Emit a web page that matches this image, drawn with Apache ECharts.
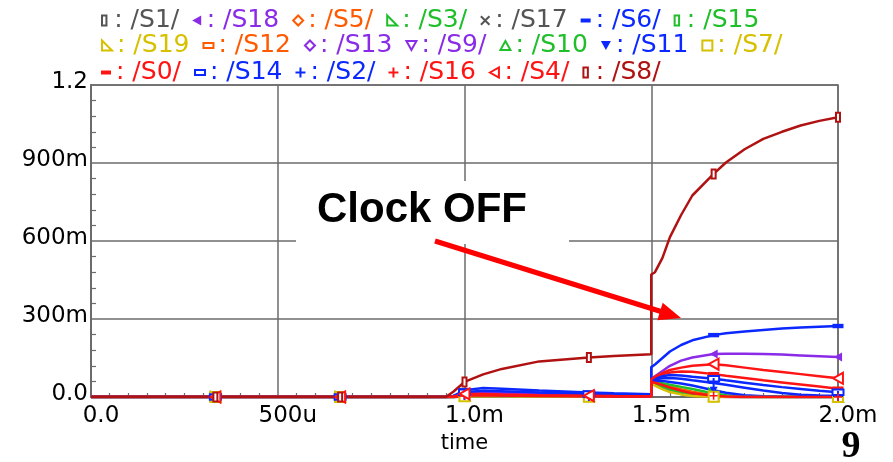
<!DOCTYPE html>
<html>
<head>
<meta charset="utf-8">
<script src="https://cdn.jsdelivr.net/npm/echarts@6/dist/echarts.min.js"></script>
<style>
html,body{margin:0;padding:0;background:#fff;}
#chart{width:893px;height:462px;}
</style>
</head>
<body>
<div id="chart"></div>
<script>
// ---------------- DATA ----------------
// time in ms
const T = [0,0.333,0.667,0.9,0.95,0.97,0.99,1.0,1.05,1.1,1.2,1.333,1.4,1.5,1.5,1.51,1.53,1.55,1.58,1.61,1.667,1.7,1.75,1.8,1.85,1.9,1.95,2.0];
const markerTimes = [0.333,0.667,1.0,1.333,1.667,2.0];
const xTickLabels = ['0.0','500u','1.0m','1.5m','2.0m'];
const yTickLabels = ['0.0','300m','600m','900m','1.2'];

const legendRow1 = ['/S1/','/S18','/S5/','/S3/','/S17','/S6/','/S15'];
const legendRow2 = ['/S19','/S12','/S13','/S9/','/S10','/S11','/S7/'];
const legendRow3 = ['/S0/','/S14','/S2/','/S16','/S4/','/S8/'];

const S1  = [0,0,0,0,0,0,0.001,0.003,0.004,0.003,0.002,0.001,0.001,0.001, 0.054,0.048,0.037,0.026,0.015,0.008,0.002,0.001,0,0,0,0,0,0];
const S18 = [0,0,0,0,0,0.002,0.010,0.014,0.018,0.016,0.012,0.008,0.006,0.005, 0.070,0.080,0.100,0.120,0.140,0.152,0.165,0.166,0.166,0.165,0.163,0.160,0.157,0.154];
const S5  = [0,0,0,0,0,0,0.002,0.004,0.005,0.004,0.003,0.002,0.001,0.001, 0.060,0.057,0.049,0.041,0.030,0.020,0.007,0.003,0.001,0,0,0,0,0];
const S3  = [0,0,0,0,0,0,0.002,0.004,0.005,0.004,0.003,0.002,0.001,0.001, 0.060,0.058,0.053,0.047,0.039,0.031,0.014,0.007,0.002,0,0,0,0,0];
const S17 = [0,0,0,0,0,0,0.001,0.003,0.004,0.003,0.002,0.001,0.001,0.001, 0.054,0.047,0.036,0.025,0.014,0.007,0.002,0.001,0,0,0,0,0,0];
const S6  = [0,0,0,0,0,0.004,0.018,0.026,0.035,0.032,0.025,0.017,0.014,0.011, 0.115,0.125,0.150,0.175,0.200,0.218,0.238,0.245,0.252,0.258,0.263,0.267,0.270,0.273];
const S15 = [0,0,0,0,0,0,0.002,0.004,0.005,0.004,0.003,0.002,0.001,0.001, 0.058,0.053,0.043,0.034,0.022,0.013,0.004,0.001,0,0,0,0,0,0];
const S19 = [0,0,0,0,0,0,0.001,0.003,0.004,0.003,0.002,0.001,0.001,0.001, 0.055,0.045,0.031,0.021,0.011,0.005,0.001,0,0,0,0,0,0,0];
const S12 = [0,0,0,0,0,0,0.002,0.004,0.005,0.004,0.003,0.002,0.001,0.001, 0.057,0.051,0.041,0.031,0.020,0.011,0.003,0.001,0,0,0,0,0,0];
const S13 = [0,0,0,0,0,0,0.002,0.004,0.005,0.004,0.003,0.002,0.001,0.001, 0.057,0.049,0.037,0.027,0.016,0.008,0.002,0,0,0,0,0,0,0];
const S9  = [0,0,0,0,0,0,0.002,0.004,0.005,0.004,0.003,0.002,0.001,0.001, 0.056,0.047,0.034,0.023,0.013,0.006,0.001,0,0,0,0,0,0,0];
const S10 = [0,0,0,0,0,0,0.002,0.004,0.005,0.004,0.003,0.002,0.001,0.001, 0.058,0.051,0.040,0.029,0.018,0.010,0.003,0.001,0,0,0,0,0,0];
const S11 = [0,0,0,0,0,0,0.003,0.006,0.007,0.006,0.004,0.003,0.002,0.002, 0.060,0.063,0.062,0.058,0.052,0.044,0.026,0.016,0.007,0.003,0.001,0,0,0];
const S7  = [0,0,0,0,0,0,0.001,0.003,0.004,0.003,0.002,0.001,0.001,0.001, 0.055,0.044,0.030,0.019,0.010,0.004,0.001,0,0,0,0,0,0,0];
const S0  = [0,0,0,0,0,0.001,0.006,0.009,0.010,0.008,0.006,0.004,0.003,0.002, 0.065,0.075,0.087,0.094,0.098,0.097,0.088,0.082,0.073,0.064,0.056,0.048,0.040,0.032];
const S14 = [0,0,0,0,0,0.003,0.012,0.018,0.024,0.022,0.017,0.012,0.010,0.008, 0.065,0.072,0.080,0.085,0.083,0.078,0.070,0.064,0.055,0.046,0.038,0.031,0.024,0.018];
const S2  = [0,0,0,0,0,0.001,0.005,0.008,0.009,0.007,0.005,0.004,0.003,0.002, 0.062,0.068,0.072,0.073,0.070,0.064,0.054,0.047,0.036,0.025,0.015,0.009,0.006,0.004];
const S16 = [0,0,0,0,0,0,0.003,0.006,0.007,0.006,0.004,0.003,0.002,0.002, 0.058,0.055,0.046,0.036,0.024,0.014,0.005,0.002,0,0,0,0,0,0];
const S4  = [0,0,0,0,0,0.002,0.008,0.012,0.012,0.010,0.007,0.005,0.004,0.003, 0.068,0.078,0.092,0.104,0.113,0.120,0.126,0.122,0.113,0.104,0.096,0.088,0.080,0.072];
const S8  = [0,0,0,0,0,0.020,0.045,0.058,0.087,0.108,0.137,0.152,0.158,0.164, 0.471,0.480,0.535,0.615,0.700,0.775,0.858,0.902,0.953,0.993,1.020,1.044,1.062,1.076];

const seriesValues = {
  '/S1/':S1,'/S18':S18,'/S5/':S5,'/S3/':S3,'/S17':S17,'/S6/':S6,'/S15':S15,
  '/S19':S19,'/S12':S12,'/S13':S13,'/S9/':S9,'/S10':S10,'/S11':S11,'/S7/':S7,
  '/S0/':S0,'/S14':S14,'/S2/':S2,'/S16':S16,'/S4/':S4,'/S8/':S8
};

// ---------------- STYLES ----------------
const C = {
  gray:'#555555', purple:'#8a2be8', orange:'#ff5a00', green:'#1fbf2a',
  blue:'#0a28ff', yellow:'#d6c000', red:'#ff1414', dred:'#b01212'
};
const SHP = {
  tallRect:'path://M0,0 L4,0 L4,9 L0,9 Z',
  triLeft:'path://M0,5 L9,0 L9,10 Z',
  diamond:'path://M5,0 L10,5 L5,10 L0,5 Z',
  rightTri:'path://M0,0 L0,9 L9,9 Z',
  cross:'path://M0,1.4 L1.4,0 L5,3.6 L8.6,0 L10,1.4 L6.4,5 L10,8.6 L8.6,10 L5,6.4 L1.4,10 L0,8.6 L3.6,5 Z',
  bar:'path://M0,0 L10,0 L10,4 L0,4 Z',
  wideRect:'path://M0,0 L10,0 L10,5 L0,5 Z',
  triDown:'path://M0,0 L10,0 L5,9 Z',
  triUp:'path://M5,0 L10,9 L0,9 Z',
  square:'path://M0,0 L10,0 L10,10 L0,10 Z',
  plus:'path://M4,0 L6,0 L6,4 L10,4 L10,6 L6,6 L6,10 L4,10 L4,6 L0,6 L0,4 L4,4 Z'
};
const styleOf = {
  '/S1/':{c:C.gray,s:SHP.tallRect,h:true,z:8},
  '/S18':{c:C.purple,s:SHP.triLeft,h:false,z:9},
  '/S5/':{c:C.orange,s:SHP.diamond,h:true,z:9},
  '/S3/':{c:C.green,s:SHP.rightTri,h:true,z:9},
  '/S17':{c:C.gray,s:SHP.cross,h:false,z:8},
  '/S6/':{c:C.blue,s:SHP.bar,h:false,z:11},
  '/S15':{c:C.green,s:SHP.tallRect,h:true,z:8},
  '/S19':{c:C.yellow,s:SHP.rightTri,h:true,z:9},
  '/S12':{c:C.orange,s:SHP.wideRect,h:true,z:9},
  '/S13':{c:C.purple,s:SHP.diamond,h:true,z:7},
  '/S9/':{c:C.purple,s:SHP.triDown,h:true,z:9},
  '/S10':{c:C.green,s:SHP.triUp,h:true,z:9},
  '/S11':{c:C.blue,s:SHP.triDown,h:false,z:8},
  '/S7/':{c:C.yellow,s:SHP.square,h:true,z:10},
  '/S0/':{c:C.red,s:SHP.bar,h:false,z:11},
  '/S14':{c:C.blue,s:SHP.wideRect,h:true,z:11},
  '/S2/':{c:C.blue,s:SHP.plus,h:false,z:10},
  '/S16':{c:C.red,s:SHP.plus,h:false,z:8},
  '/S4/':{c:C.red,s:SHP.triLeft,h:true,z:11},
  '/S8/':{c:C.dred,s:SHP.tallRect,h:true,z:9}
};

const allNames = legendRow1.concat(legendRow2, legendRow3);
const series = allNames.map(function(name){
  const st = styleOf[name];
  const vals = seriesValues[name];
  return {
    name: name,
    type: 'line',
    data: T.map(function(t,i){ return [t, vals[i]]; }),
    symbol: st.s,
    symbolKeepAspect: true,
    showSymbol: true,
    showAllSymbol: true,
    symbolSize: function(v){
      return markerTimes.some(function(m){ return Math.abs(m - v[0]) < 1e-6; }) ? st.z : 0;
    },
    lineStyle: {color: st.c, width: 2.5},
    itemStyle: st.h ? {color:'#ffffff', borderColor: st.c, borderWidth: 2} : {color: st.c, borderColor: st.c, borderWidth: 0},
    emphasis: {disabled: true},
    animation: false
  };
});

const LF = 'DejaVu Sans', LS = 25, LW = 80;
function legendFor(names, top){
  return {
    left: 101, top: top, orient: 'horizontal', padding: 0,
    itemWidth: 10, itemHeight: 10, itemGap: 13,
    selectedMode: false,
    formatter: '{a|: {name}}',
    textStyle: {fontFamily: LF, fontSize: LS, rich: {a: {width: LW, fontFamily: LF, fontSize: LS}}},
    data: names.map(function(n){
      return {name:n, icon: styleOf[n].s,
        textStyle:{color: styleOf[n].c, fontFamily: LF, fontSize: LS,
          rich: {a: {width: LW, fontFamily: LF, fontSize: LS, color: styleOf[n].c}}}};
    })
  };
}

const gridColor = '#6b6b6b';
const option = {
  backgroundColor: '#ffffff',
  animation: false,
  legend: [legendFor(legendRow1, 8), legendFor(legendRow2, 33), legendFor(legendRow3, 60)],
  grid: {left: 91, right: 55, top: 85, bottom: 65, show: true, borderColor: gridColor, borderWidth: 1.5, backgroundColor: 'transparent'},
  xAxis: {
    type: 'value', min: 0, max: 2.0, interval: 0.5,
    name: 'time', nameLocation: 'middle', nameGap: 27,
    nameTextStyle: {fontFamily:'DejaVu Sans', fontSize: 21, color:'#000'},
    axisLine: {show: true, lineStyle: {color: gridColor, width: 2}},
    axisTick: {show: false, inside: true},
    minorTick: {show: true, splitNumber: 10, length: 4, lineStyle: {color: gridColor, width: 1.2}},
    splitLine: {show: true, lineStyle: {color: gridColor, width: 1.5}},
    axisLabel: {
      fontFamily:'DejaVu Sans', fontSize: 23, color:'#000', margin: 8, padding: [0,0,0,20],
      formatter: function(v){ return xTickLabels[Math.round(v/0.5)]; }
    }
  },
  yAxis: {
    type: 'value', min: 0, max: 1.2, interval: 0.3,
    axisLine: {show: true, lineStyle: {color: gridColor, width: 2}},
    axisTick: {show: false, inside: true},
    minorTick: {show: true, splitNumber: 5, length: 5, lineStyle: {color: gridColor, width: 1.2}},
    splitLine: {show: true, lineStyle: {color: gridColor, width: 1.5}},
    axisLabel: {
      fontFamily:'DejaVu Sans', fontSize: 23, color:'#000', margin: 3,
      formatter: function(v){ return '{a|' + yTickLabels[Math.round(v/0.3)] + '}'; },
      rich: {a: {fontFamily:'DejaVu Sans', fontSize: 23, lineHeight: 23, color:'#000', padding: [0,0,6,0]}}
    }
  },
  graphic: [
    {type:'rect', z: 50, shape:{x:296, y:181, width:273, height:63}, style:{fill:'#ffffff'}},
    {type:'text', z: 51, style:{x:317, y:210, text:'Clock OFF', fontFamily:'Liberation Sans', fontWeight:'bold', fontSize:42, fill:'#000', textVerticalAlign:'middle'}},
    {type:'line', z: 52, shape:{x1:435, y1:241, x2:661, y2:311.5}, style:{stroke:'#ff0000', lineWidth:5}},
    {type:'polygon', z: 52, shape:{points:[[681,318],[657.3,320.3],[662.7,302.7]]}, style:{fill:'#ff0000'}},
    {type:'text', z: 51, style:{x:851, y:447, text:'9', fontFamily:'Liberation Serif', fontWeight:'bold', fontSize:38, fill:'#000', textAlign:'center', textVerticalAlign:'middle'}}
  ],
  series: series
};

const chart = echarts.init(document.getElementById('chart'), null, {renderer:'canvas'});
chart.setOption(option);
</script>
</body>
</html>
